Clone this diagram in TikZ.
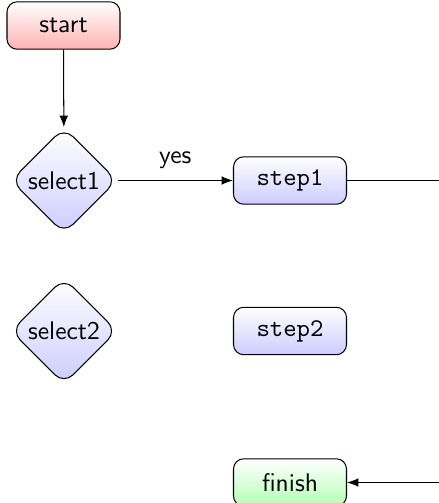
\documentclass[tikz,border=0pt]{standalone}
\usetikzlibrary{shapes.geometric,arrows.meta}
\begin{document}
\begin{tikzpicture}[x=0.392pt,y=-0.392pt,
  font=\sffamily,
  every path/.style={line width=0.4pt},
  box/.style={draw, rounded corners=4pt, minimum width=44.3pt, minimum height=18.6pt, inner sep=2pt},
  stepbox/.style={box, top color=white, bottom color=blue!20, font=\ttfamily},
  startbox/.style={box, top color=white, bottom color=red!30},
  finishbox/.style={box, top color=white, bottom color=green!30},
  choice/.style={draw, diamond, rounded corners=5pt, inner sep=0pt, minimum width=41.6pt, minimum height=41.6pt, top color=white, bottom color=blue!20},
  link/.style={draw, -{Latex[length=4.5pt,width=3.4pt]}}]
\useasboundingbox (0,0) rectangle (439,503);

\node[startbox] (start) at (63.5,25.5) {start};
\node[choice] (select1) at (64,180.5) {select1};
\node[choice] (select2) at (64,331) {select2};
\node[stepbox] (step1) at (290,180.5) {step1};
\node[stepbox] (step2) at (290,331) {step2};
\node[finishbox] (finish) at (290,482.5) {finish};
\coordinate (loop) at (470,180.5);

\draw[link] (start) -- (select1);
\draw[link] (select1) -- node[above, yshift=1pt] {yes} (step1);
\draw (step1) -- (loop);
\draw[link] (loop) |- (finish);
\end{tikzpicture}
\end{document}
